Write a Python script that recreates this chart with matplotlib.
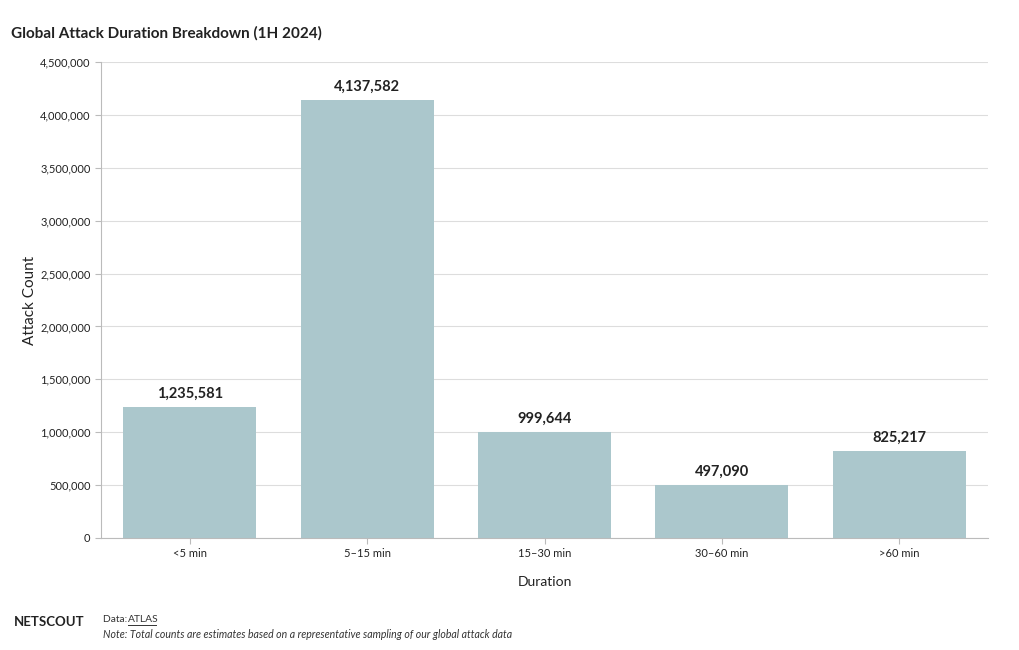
import matplotlib
matplotlib.use("Agg")
import matplotlib.pyplot as plt
from matplotlib.ticker import FuncFormatter, MultipleLocator

categories = ["<5 min", "5–15 min", "15–30 min", "30–60 min", ">60 min"]
counts = [1235581, 4137582, 999644, 497090, 825217]

plt.rcParams['font.family'] = ['Lato', 'DejaVu Sans']

fig = plt.figure(figsize=(10.2, 6.5), dpi=100)
ax = fig.add_axes([101/1020, 1-538/650, (988-101)/1020, (538-62)/650])

x = range(len(categories))
ax.bar(x, counts, width=0.75, color="#abc7cc", zorder=2)
for xi, v in zip(x, counts):
    ax.text(xi, v + 60000, f"{v:,}", ha="center", va="bottom",
            fontsize=10.5, fontweight="bold", color="#222222")

ax.set_xlim(-0.5, len(categories) - 0.5)
ax.set_ylim(0, 4500000)
ax.yaxis.set_major_locator(MultipleLocator(500000))
ax.yaxis.set_major_formatter(FuncFormatter(lambda v, p: f"{int(v):,}"))
ax.set_xticks(list(x))
ax.set_xticklabels(categories)
ax.tick_params(axis="both", labelsize=8, colors="#222222", length=4, width=0.8)
ax.tick_params(axis="both", color="#bbbbbb")
ax.grid(axis="y", color="#dddddd", linewidth=0.8, zorder=0)
for s in ["top", "right"]:
    ax.spines[s].set_visible(False)
for s in ["left", "bottom"]:
    ax.spines[s].set_color("#bbbbbb")
    ax.spines[s].set_linewidth(0.8)

ax.set_ylabel("Attack Count", fontsize=11, color="#222222", labelpad=2)
ax.set_xlabel("Duration", fontsize=10, color="#222222", labelpad=12)

fig.text(11/1020, 1-33/650, "Global Attack Duration Breakdown (1H 2024)",
         fontsize=11, fontweight="bold", color="#222222", va="center", ha="left")
fig.text(14/1020, 1-622/650, "NETSCOUT", fontsize=9.5, fontweight="bold",
         color="#222222", va="center", ha="left")
fig.text(103/1020, 1-620/650, "Data: ", fontsize=7.4, color="#333333",
         va="center", ha="left")
fig.text(128/1020, 1-620/650, "ATLAS", fontsize=7.4, color="#333333",
         va="center", ha="left")
fig.lines.append(plt.Line2D([128/1020, 156/1020], [1-624.8/650, 1-624.8/650],
                            transform=fig.transFigure, color="#333333", linewidth=0.7))
fig.text(103/1020, 1-634/650,
         "Note: Total counts are estimates based on a representative sampling of our global attack data",
         fontsize=7.6, style="italic", color="#333333", va="center", ha="left")

fig.savefig("out.png", dpi=100)
